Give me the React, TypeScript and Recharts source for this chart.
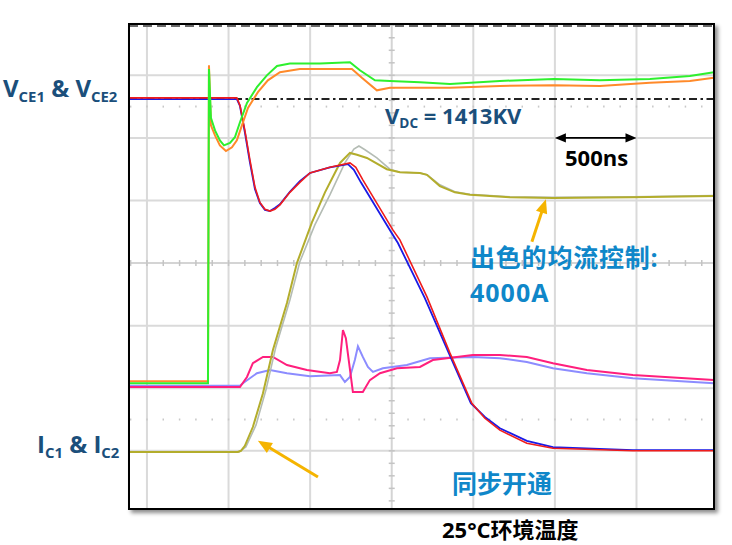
import React from 'react';
import { LineChart, Line, XAxis, YAxis, ReferenceLine } from 'recharts';

// time in ns (0 = first vertical grid line), amplitude in screen divisions (0 = centre line)
const T_MIN = -110;
const T_MAX = 3475;
const V_MIN = -3.93;
const V_MAX = 3.82;

const gridTimes = [0, 500, 1000, 1500, 2000, 2500, 3000];
const gridLevels = [-3, -2, -1, 1, 2, 3];
const dottedLevels = [-2.5, 2.5];
const vdcLevel = 2.62;

// gate voltages (green / orange)
const vge1 = [[-110, -1.92], [374, -1.92], [380, 3.1], [392, 2.32], [417, 2.12], [447, 1.96], [472, 1.88], [509, 1.92], [539, 2.01], [570, 2.25], [613, 2.56], [674, 2.81], [735, 3.0], [797, 3.15], [876, 3.19], [1060, 3.19], [1244, 3.21], [1305, 3.08], [1397, 2.92], [1489, 2.91], [1673, 2.89], [1857, 2.86], [2163, 2.91], [2494, 2.94], [2776, 2.92], [3082, 2.94], [3327, 2.99], [3474, 3.05]];
const vge2 = [[-110, -1.89], [374, -1.89], [380, 3.16], [392, 2.2], [417, 2.04], [447, 1.88], [484, 1.79], [521, 1.85], [551, 1.96], [582, 2.2], [619, 2.48], [680, 2.73], [741, 2.92], [815, 3.05], [937, 3.1], [1183, 3.1], [1256, 3.1], [1317, 2.96], [1409, 2.76], [1489, 2.8], [1673, 2.8], [1857, 2.8], [2163, 2.83], [2494, 2.84], [2776, 2.83], [3082, 2.88], [3327, 2.91], [3474, 2.96]];

// collector-emitter voltages (red / blue)
const vce1 = [[-110, 2.64], [551, 2.64], [570, 2.52], [600, 2.12], [631, 1.65], [662, 1.21], [692, 0.97], [723, 0.86], [754, 0.83], [784, 0.86], [815, 0.93], [876, 1.13], [937, 1.29], [999, 1.44], [1121, 1.53], [1244, 1.6], [1280, 1.53], [1323, 1.33], [1507, 0.53], [1550, 0.37], [1716, -0.54], [1857, -1.44], [1991, -2.24], [2071, -2.48], [2163, -2.67], [2328, -2.88], [2488, -2.96], [2978, -3.0], [3474, -3.0]];
const vce2 = [[-110, 2.62], [551, 2.62], [570, 2.51], [600, 2.09], [631, 1.61], [662, 1.18], [692, 0.96], [723, 0.85], [754, 0.83], [784, 0.88], [815, 0.94], [876, 1.14], [937, 1.31], [999, 1.44], [1121, 1.53], [1232, 1.58], [1268, 1.49], [1311, 1.29], [1495, 0.5], [1538, 0.32], [1703, -0.56], [1850, -1.44], [1985, -2.24], [2071, -2.46], [2163, -2.64], [2328, -2.84], [2488, -2.94], [2978, -2.99], [3474, -2.99]];

// collector currents (olive / grey)
const ic1 = [[-110, -3.02], [557, -3.02], [576, -3.0], [600, -2.92], [649, -2.62], [711, -2.08], [772, -1.39], [858, -0.64], [919, 0], [1011, 0.65], [1091, 1.13], [1183, 1.6], [1244, 1.76], [1287, 1.73], [1348, 1.68], [1470, 1.5], [1550, 1.45], [1673, 1.44], [1716, 1.41], [1795, 1.23], [1887, 1.13], [1979, 1.09], [2224, 1.05], [2488, 1.04], [2978, 1.05], [3474, 1.07]];
const ic2 = [[-110, -3.02], [564, -3.02], [606, -2.94], [668, -2.59], [729, -2.03], [790, -1.34], [876, -0.59], [937, 0.02], [1029, 0.61], [1121, 1.09], [1213, 1.6], [1268, 1.82], [1299, 1.87], [1336, 1.81], [1409, 1.68], [1489, 1.5], [1550, 1.45], [1673, 1.44], [1716, 1.41], [1795, 1.25], [1887, 1.14], [1979, 1.1], [2224, 1.06], [2488, 1.05], [2978, 1.06], [3474, 1.08]];

// gate currents (pink / lavender)
const ig1 = [[-110, -1.98], [570, -1.98], [613, -1.82], [649, -1.6], [711, -1.5], [772, -1.5], [858, -1.63], [980, -1.71], [1121, -1.76], [1164, -1.74], [1183, -1.55], [1201, -1.07], [1219, -1.2], [1238, -1.58], [1262, -2.06], [1323, -2.06], [1366, -1.87], [1428, -1.76], [1532, -1.68], [1673, -1.66], [1752, -1.55], [1997, -1.47], [2163, -1.47], [2328, -1.5], [2488, -1.6], [2696, -1.71], [2978, -1.79], [3474, -1.87]];
const ig2 = [[-110, -1.96], [570, -1.96], [588, -1.92], [674, -1.76], [754, -1.71], [858, -1.76], [999, -1.81], [1183, -1.79], [1213, -1.9], [1244, -1.82], [1274, -1.55], [1293, -1.33], [1323, -1.5], [1354, -1.66], [1385, -1.74], [1446, -1.68], [1593, -1.63], [1734, -1.52], [1997, -1.5], [2163, -1.52], [2328, -1.58], [2488, -1.68], [2696, -1.76], [2978, -1.84], [3474, -1.92]];

const pts = (a: number[][]) => a.map(([t, v]) => ({ t, v }));

const traces = [
  { name: 'ig2', data: ig2, color: '#8c8cff', w: 2 },
  { name: 'ig1', data: ig1, color: '#ff1f7d', w: 2 },
  { name: 'ic2', data: ic2, color: '#b4bcb4', w: 1.6 },
  { name: 'ic1', data: ic1, color: '#b3ad2c', w: 2 },
  { name: 'vce2', data: vce2, color: '#1a1ae6', w: 1.8 },
  { name: 'vce1', data: vce1, color: '#f01c1c', w: 1.6 },
  { name: 'vge2', data: vge2, color: '#ff8a2a', w: 2 },
  { name: 'vge1', data: vge1, color: '#2ef02e', w: 2 },
];

const arrowShape = (color: string, width: number, head: number, both: boolean) => (p: any) => {
  const { x1, y1, x2, y2 } = p;
  const a = Math.atan2(y2 - y1, x2 - x1);
  const c = Math.cos(a), s = Math.sin(a);
  const hw = head * 0.42;
  const tri = (x: number, y: number, dx: number, dy: number) => {
    const bx = x - head * dx, by = y - head * dy;
    return `${x},${y} ${bx + hw * dy},${by - hw * dx} ${bx - hw * dy},${by + hw * dx}`;
  };
  const sx = both ? x1 + head * c * 0.8 : x1, sy = both ? y1 + head * s * 0.8 : y1;
  return (
    <g>
      <line x1={sx} y1={sy} x2={x2 - head * c * 0.8} y2={y2 - head * s * 0.8} stroke={color} strokeWidth={width} />
      <polygon points={tri(x2, y2, c, s)} fill={color} />
      {both && <polygon points={tri(x1, y1, -c, -s)} fill={color} />}
    </g>
  );
};

// short marks along a horizontal line every 100 ns
const hMarks = (len: number, withLine: boolean, color: string) => (p: any) => {
  const { x1, y1, x2 } = p;
  const l = Math.min(x1, x2), r = Math.max(x1, x2);
  const k = (r - l) / (T_MAX - T_MIN);
  const marks = [];
  for (let t = -100; t <= T_MAX; t += 100) {
    const x = l + (t - T_MIN) * k;
    marks.push(<line key={t} x1={x} x2={x} y1={y1 - len / 2} y2={y1 + len / 2} stroke={color} strokeWidth={1.5} />);
  }
  return (
    <g>
      {withLine && <line x1={l} x2={r} y1={y1} y2={y1} stroke="#d4d4d4" strokeWidth={2} />}
      {marks}
    </g>
  );
};

// short marks along the vertical centre line every 0.2 div
const vMarks = (p: any) => {
  const { x1, y1, y2 } = p;
  const top = Math.min(y1, y2), bot = Math.max(y1, y2);
  const k = (bot - top) / (V_MAX - V_MIN);
  const marks = [];
  for (let i = -19; i <= 19; i++) {
    const y = top + (V_MAX - i * 0.2) * k;
    marks.push(<line key={i} x1={x1 - 3} x2={x1 + 3} y1={y} y2={y} stroke="#c4c4c4" strokeWidth={1.5} />);
  }
  return (
    <g>
      <line x1={x1} x2={x1} y1={top} y2={bot} stroke="#d4d4d4" strokeWidth={2} />
      {marks}
    </g>
  );
};

const font = '"Open Sans", "Noto Sans CJK SC", sans-serif';
const navy = '#1b4f7b';
const cyan = '#0f87c9';

const Label: React.FC<{ x: number; y: number; size: number; color: string; spacing?: number; children: React.ReactNode }> = ({ x, y, size, color, spacing, children }) => (
  <div style={{ position: 'absolute', left: x, top: y, fontFamily: font, fontWeight: 700, fontSize: size, lineHeight: 1, color, whiteSpace: 'nowrap', letterSpacing: spacing || 0 }}>
    {children}
  </div>
);

const Sub: React.FC<{ children: React.ReactNode }> = ({ children }) => (
  <span style={{ fontSize: '0.62em', position: 'relative', top: '0.32em' }}>{children}</span>
);

const App: React.FC = () => {
  return (
    <div style={{ position: 'absolute', left: 0, top: 0, width: 732, height: 545, background: '#fff', overflow: 'hidden' }}>
      <LineChart width={732} height={545} margin={{ top: 24, right: 18, bottom: 36, left: 129 }}>
        <XAxis type="number" dataKey="t" domain={[T_MIN, T_MAX]} hide allowDataOverflow />
        <YAxis type="number" dataKey="v" domain={[V_MIN, V_MAX]} hide allowDataOverflow />
        {gridTimes.filter((t) => t !== 1500).map((t) => (
          <ReferenceLine key={'gx' + t} x={t} stroke="#dadada" strokeWidth={2} />
        ))}
        {gridLevels.map((v) => (
          <ReferenceLine key={'gy' + v} y={v} stroke="#dadada" strokeWidth={2} />
        ))}
        {dottedLevels.map((v) => (
          <ReferenceLine key={'gd' + v} y={v} shape={hMarks(2, false, '#c8c8c8')} />
        ))}
        <ReferenceLine x={1500} shape={vMarks} />
        <ReferenceLine y={0} shape={hMarks(6, true, '#c4c4c4')} />
        <ReferenceLine y={3.79} stroke="#6a6a6a" strokeWidth={2} strokeDasharray="9 5" />
        <ReferenceLine y={vdcLevel} stroke="#222" strokeWidth={2} strokeDasharray="8 3.5 2.5 3.5" />
        {traces.map((s) => (
          <Line
            key={s.name}
            data={pts(s.data)}
            dataKey="v"
            type="linear"
            stroke={s.color}
            strokeWidth={s.w}
            dot={false}
            activeDot={false}
            isAnimationActive={false}
          />
        ))}
        <ReferenceLine segment={[{ x: 2500, y: 2 }, { x: 3000, y: 2 }]} shape={arrowShape('#000', 1.6, 11, true)} />
        <ReferenceLine segment={[{ x: 2359, y: 0.34 }, { x: 2445, y: 1.02 }]} shape={arrowShape('#f5b400', 3, 14, false)} />
        <ReferenceLine segment={[{ x: 1048, y: -3.42 }, { x: 680, y: -2.84 }]} shape={arrowShape('#f5b400', 3, 14, false)} />
      </LineChart>

      <div style={{ position: 'absolute', left: 128, top: 23, width: 587, height: 487, boxSizing: 'border-box', border: '2px solid #000', boxShadow: '3px 3px 4px rgba(0,0,0,0.45)', pointerEvents: 'none' }} />

      <Label x={3} y={76} size={24} color={navy}>V<Sub>CE1</Sub> &amp; V<Sub>CE2</Sub></Label>
      <Label x={37} y={432} size={24} color={navy}>I<Sub>C1</Sub> &amp; I<Sub>C2</Sub></Label>
      <Label x={385} y={104} size={22} color={navy}>V<Sub>DC</Sub> = 1413KV</Label>
      <Label x={565} y={146} size={22} color="#000">500ns</Label>
      <Label x={470} y={245} size={25} color={cyan} spacing={0.8}>出色的均流控制:</Label>
      <Label x={470} y={280} size={25} color={cyan} spacing={1}>4000A</Label>
      <Label x={452} y={471} size={25} color={cyan}>同步开通</Label>
      <Label x={442} y={518} size={22} color="#000">25°C环境温度</Label>
    </div>
  );
};

export default App;
